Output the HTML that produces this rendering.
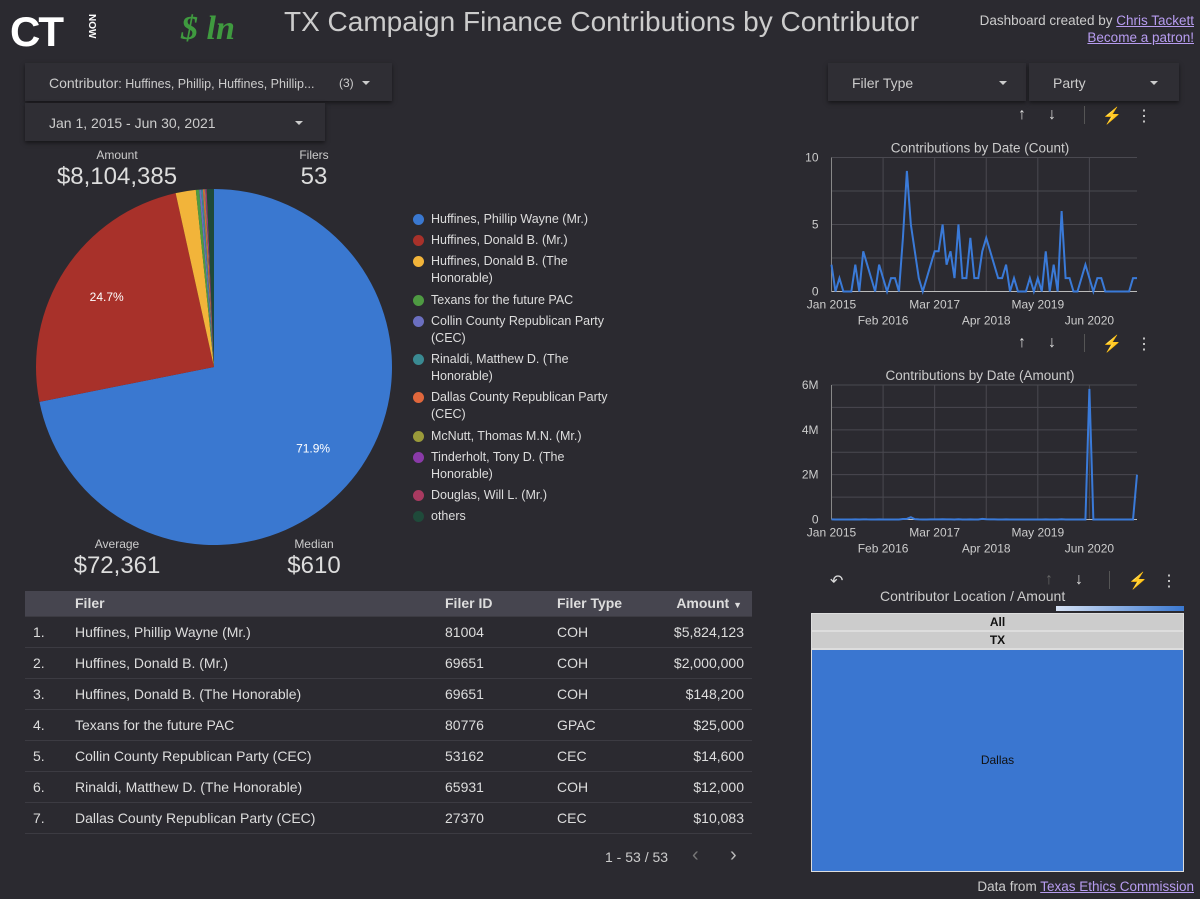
<!DOCTYPE html>
<html><head><meta charset="utf-8">
<style>
*{box-sizing:border-box;margin:0;padding:0}
body{width:1200px;height:899px;background:#2b2a30;font-family:"Liberation Sans",sans-serif;color:#ddd;position:relative;overflow:hidden}
.abs{position:absolute}
.ctl{position:absolute;background:#2f2e34;box-shadow:0 2px 4px rgba(0,0,0,.5);font-size:14px;color:#ccc}
.caret{position:absolute;width:0;height:0;border-left:4px solid transparent;border-right:4px solid transparent;border-top:4px solid #ccc}
.kpil{position:absolute;font-size:12px;color:#ccc;text-align:center}
.kpiv{position:absolute;font-size:24px;color:#ddd;text-align:center}
.leg{position:absolute;left:413px;font-size:12.5px;color:#ddd;line-height:17px;width:210px}
.leg i{position:absolute;left:0;top:3px;width:11px;height:11px;border-radius:50%}
.leg span{display:block;padding-left:18px}
table{border-collapse:collapse;font-size:14px;color:#ddd}
td,th{height:31px;border-bottom:1px solid #3c3b42;text-align:left;font-weight:normal}
th{background:#46454f;height:25px;font-weight:bold;color:#ddd}
a{color:#b79cf0;text-decoration:underline}
.icon{position:absolute;font-size:16px;color:#ddd}
</style></head><body>
<div class="abs" style="left:10px;top:8px;font-size:42px;font-weight:bold;color:#fff;letter-spacing:-2px">CT</div>
<div class="abs" style="left:86px;top:14px;font-size:10px;font-weight:bold;color:#fff;writing-mode:vertical-rl">NOW</div>
<div class="abs" style="left:181px;top:10px;font-size:34px;font-weight:bold;font-style:italic;color:#3f9a3f;font-family:'Liberation Serif',serif">$ ln</div>
<div class="abs" style="left:284px;top:6px;font-size:28px;color:#ccc">TX Campaign Finance Contributions by Contributor</div>
<div class="abs" style="right:6px;top:12px;font-size:13.5px;color:#ccc;text-align:right;line-height:17px">Dashboard created by <a>Chris Tackett</a><br><a>Become a patron!</a></div>

<div class="ctl" style="left:25px;top:63px;width:367px;height:38px"><span class="abs" style="left:24px;top:12px">Contributor<span style="font-size:12.5px">: Huffines, Phillip, Huffines, Phillip...</span></span><span class="abs" style="left:314px;top:13px;font-size:12px">(3)</span><i class="caret" style="left:337px;top:18px"></i></div>
<div class="ctl" style="left:25px;top:103px;width:300px;height:38px"><span class="abs" style="left:24px;top:12px">Jan 1, 2015 - Jun 30, 2021</span><i class="caret" style="left:270px;top:18px"></i></div>
<div class="ctl" style="left:828px;top:63px;width:198px;height:38px"><span class="abs" style="left:24px;top:12px">Filer Type</span><i class="caret" style="left:171px;top:18px"></i></div>
<div class="ctl" style="left:1029px;top:63px;width:150px;height:38px"><span class="abs" style="left:24px;top:12px">Party</span><i class="caret" style="left:121px;top:18px"></i></div>

<div class="kpil" style="left:67px;top:148px;width:100px">Amount</div>
<div class="kpiv" style="left:37px;top:163px;width:160px">$8,104,385</div>
<div class="kpil" style="left:264px;top:148px;width:100px">Filers</div>
<div class="kpiv" style="left:264px;top:163px;width:100px">53</div>
<div class="kpil" style="left:67px;top:537px;width:100px">Average</div>
<div class="kpiv" style="left:47px;top:552px;width:140px">$72,361</div>
<div class="kpil" style="left:264px;top:537px;width:100px">Median</div>
<div class="kpiv" style="left:254px;top:552px;width:120px">$610</div>

<svg id="pie" class="abs" style="left:0;top:0" width="400" height="560"></svg>
<div id="legend"></div>

<div class="icon" style="left:1018px;top:106px">↑</div>
<div class="icon" style="left:1048px;top:106px">↓</div>
<div class="abs" style="left:1084px;top:106px;width:1px;height:18px;background:#555"></div>
<div class="icon" style="left:1102px;top:106px">⚡</div>
<div class="icon" style="left:1136px;top:106px">⋮</div>
<div class="icon" style="left:1018px;top:334px">↑</div>
<div class="icon" style="left:1048px;top:334px">↓</div>
<div class="abs" style="left:1084px;top:334px;width:1px;height:18px;background:#555"></div>
<div class="icon" style="left:1102px;top:334px">⚡</div>
<div class="icon" style="left:1136px;top:334px">⋮</div>

<svg id="count" class="abs" style="left:790px;top:130px" width="400" height="200"></svg>
<svg id="amount" class="abs" style="left:790px;top:358px" width="400" height="200"></svg>

<div class="icon" style="left:830px;top:571px">↶</div>
<div class="icon" style="left:1045px;top:571px;color:#666">↑</div>
<div class="icon" style="left:1075px;top:571px">↓</div>
<div class="abs" style="left:1109px;top:571px;width:1px;height:18px;background:#555"></div>
<div class="icon" style="left:1128px;top:571px">⚡</div>
<div class="icon" style="left:1161px;top:571px">⋮</div>
<div class="abs" style="left:880px;top:588px;font-size:14px;color:#ccc">Contributor Location / Amount</div>
<div class="abs" style="left:1056px;top:606px;width:128px;height:5px;background:linear-gradient(90deg,#d6e2f5,#3a78d0)"></div>
<div class="abs" style="left:811px;top:613px;width:373px;height:259px;background:#ddd">
<div class="abs" style="left:1px;top:1px;width:371px;height:16px;background:#ccc;color:#111;font-size:12px;font-weight:bold;text-align:center;line-height:16px">All</div>
<div class="abs" style="left:1px;top:19px;width:371px;height:16px;background:#ccc;color:#111;font-size:12px;font-weight:bold;text-align:center;line-height:16px">TX</div>
<div class="abs" style="left:1px;top:37px;width:371px;height:221px;background:#3a76d0;color:#111;font-size:12px;text-align:center;line-height:221px">Dallas</div>
</div>

<div class="abs" style="left:25px;top:591px;width:727px;height:252px;overflow:hidden">
<table style="width:727px">
<tr><th style="width:50px"></th><th style="width:370px">Filer</th><th style="width:112px">Filer ID</th><th style="width:100px">Filer Type</th><th style="text-align:right;padding-right:10px">Amount <span style="font-size:9px">▼</span></th></tr>
<tbody id="tb"></tbody></table></div>
<div class="abs" style="left:605px;top:849px;font-size:14px;color:#ccc">1 - 53 / 53</div>
<div class="abs" style="left:692px;top:844px;font-size:20px;color:#777">‹</div>
<div class="abs" style="left:730px;top:844px;font-size:20px;color:#bbb">›</div>
<div class="abs" style="right:6px;top:879px;font-size:13.5px;color:#ccc">Data from <a>Texas Ethics Commission</a></div>

<script>
const NS="http://www.w3.org/2000/svg";
function mk(p,t,a){const e=document.createElementNS(NS,t);for(const k in a)e.setAttribute(k,a[k]);p.appendChild(e);return e;}
// Pie data
const pieLabels=["Huffines, Phillip Wayne (Mr.)","Huffines, Donald B. (Mr.)","Huffines, Donald B. (The Honorable)","Texans for the future PAC","Collin County Republican Party (CEC)","Rinaldi, Matthew D. (The Honorable)","Dallas County Republican Party (CEC)","McNutt, Thomas M.N. (Mr.)","Tinderholt, Tony D. (The Honorable)","Douglas, Will L. (Mr.)","others"];
const pieValues=[5824123,2000000,148200,25000,14600,12000,10083,6500,6000,5500,52379];
const pieColors=["#3a78d0","#a8312a","#f2b43a","#4e9a42","#6b6fc0","#3a8a92","#e0673c","#9a9a3a","#8a3aa8","#a83a60","#1f4a3a"];
const pie=document.getElementById('pie');
const cx=214,cy=367,r=178;
const tot=pieValues.reduce((a,b)=>a+b,0);
let a0=0;
pieValues.forEach((v,i)=>{
  const a1=a0+v/tot*2*Math.PI;
  const x0=cx+r*Math.sin(a0),y0=cy-r*Math.cos(a0),x1=cx+r*Math.sin(a1),y1=cy-r*Math.cos(a1);
  const p=mk(pie,'path',{d:`M${cx},${cy}L${x0},${y0}A${r},${r} 0 ${a1-a0>Math.PI?1:0} 1 ${x1},${y1}Z`,fill:pieColors[i]});
  
  
  const pct=v/tot;
  if(pct>0.1){const am=(a0+a1)/2,lr=r*0.72;
    const t=mk(pie,'text',{x:cx+lr*Math.sin(am),y:cy-lr*Math.cos(am)+4,fill:'#fff','font-size':12,'text-anchor':'middle'});t.textContent=(pct*100).toFixed(1)+'%';
    
    }
  a0=a1;
});
// legend
const legTops=[211,232,253,292,313,351,389,428,449,487,508];
const lg=document.getElementById('legend');
pieLabels.forEach((l,i)=>{const d=document.createElement('div');d.className='leg';d.style.top=legTops[i]+'px';
d.innerHTML=`<i style="background:${pieColors[i]}"></i><span>${l}</span>`;


lg.appendChild(d);});
// Line charts
const countValues=[2,0,1,0,0,0,2,0,3,2,1,0,2,1,0,1,1,0,4,9,5,3,1,0,1,2,3,3,5,2,3,1,5,1,1,4,1,1,3,4,3,2,1,1,2,0,1,0,0,0,1,0,1,0,3,0,2,0,6,1,1,0,0,1,2,1,0,1,1,0,0,0,0,0,0,0,1,1];
const amountValues=[5000,0,2000,0,0,0,4000,0,8000,3000,2000,0,5000,1000,0,2000,1000,0,20000,30000,100000,15000,3000,0,1000,4000,6000,5000,10000,3000,6000,1000,9000,1000,1000,8000,2000,1000,30000,9000,5000,3000,1000,1000,3000,0,1000,0,0,0,1000,0,1000,0,4000,0,2000,0,9000,1000,1000,0,0,1000,1000,5824123,0,1000,1000,0,0,0,0,0,0,0,1000,2000000];
const xTickLabels=["Jan 2015","Feb 2016","Mar 2017","Apr 2018","May 2019","Jun 2020"];
const xTickIdx=[0,13,26,39,52,65];
const countTicks=[0,5,10];const countMax=10;
const amountTicks=[0,2e6,4e6,6e6];const amountTickLabels=["0","2M","4M","6M"];const amountMax=6e6;
function line(svg,title,vals,max,ticks,tlabels,top,bot){
  const x0=41.5,x1=347,n=vals.length;
  const X=i=>x0+(x1-x0)*i/(n-1), Y=v=>bot-(bot-top)*v/max;
  const t=mk(svg,'text',{x:190,y:top-5,fill:'#ccc','font-size':13.5,'text-anchor':'middle'});t.textContent=title;
  
  for(let k=0;k<=(ticks.length-1)*2;k++){const v=max*k/((ticks.length-1)*2);mk(svg,'line',{x1:x0,x2:x1,y1:Y(v),y2:Y(v),stroke:'#4a4950'});}
  xTickIdx.forEach((ix,j)=>{mk(svg,'line',{x1:X(ix),x2:X(ix),y1:top,y2:bot,stroke:'#4a4950'});
    const tx=mk(svg,'text',{x:X(ix),y:bot+(j%2?33:17),fill:'#ccc','font-size':12,'text-anchor':'middle'});tx.textContent=xTickLabels[j];
    });
  ticks.forEach((v,j)=>{const ty=mk(svg,'text',{x:x0-13,y:Y(v)+4,fill:'#ccc','font-size':12,'text-anchor':'end'});ty.textContent=tlabels[j];
    });
  mk(svg,'line',{x1:x0,x2:x0,y1:top,y2:bot,stroke:'#888'});
  mk(svg,'line',{x1:x0,x2:x1,y1:bot,y2:bot,stroke:'#bbb'});
  const p=mk(svg,'polyline',{points:vals.map((v,i)=>X(i)+','+Y(v)).join(' '),fill:'none',stroke:'#3a7ad8','stroke-width':2});
  
}
line(document.getElementById('count'),'Contributions by Date (Count)',countValues,countMax,countTicks,countTicks.map(String),27.5,161.5);
line(document.getElementById('amount'),'Contributions by Date (Amount)',amountValues,amountMax,amountTicks,amountTickLabels,27,161.5);
// table
const tFilers=["Huffines, Phillip Wayne (Mr.)","Huffines, Donald B. (Mr.)","Huffines, Donald B. (The Honorable)","Texans for the future PAC","Collin County Republican Party (CEC)","Rinaldi, Matthew D. (The Honorable)","Dallas County Republican Party (CEC)","Tinderholt, Tony D. (The Honorable)"];
const tIds=["81004","69651","69651","80776","53162","65931","27370","68428"];
const tTypes=["COH","COH","COH","GPAC","CEC","COH","CEC","COH"];
const tAmts=["$5,824,123","$2,000,000","$148,200","$25,000","$14,600","$12,000","$10,083","$6,000"];
const tb=document.getElementById('tb');
tFilers.forEach((f,i)=>{const tr=document.createElement('tr');
tr.innerHTML=`<td style="padding-left:8px">${i+1}.</td><td>${f}</td><td>${tIds[i]}</td><td>${tTypes[i]}</td><td style="text-align:right;padding-right:8px">${tAmts[i]}</td>`;


tb.appendChild(tr);});
</script>
</body></html>
